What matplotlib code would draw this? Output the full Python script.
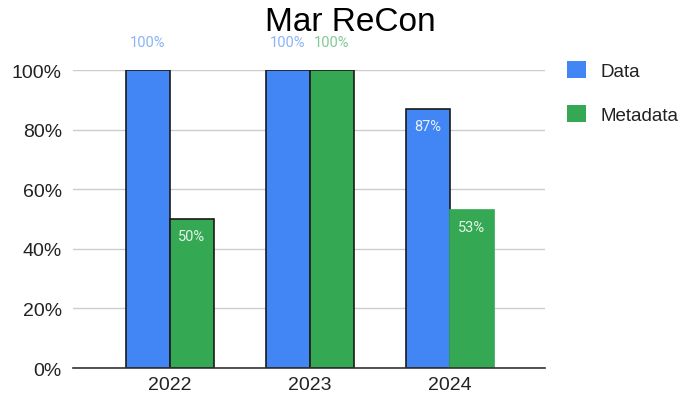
import matplotlib
matplotlib.use("Agg")
import matplotlib.pyplot as plt
import numpy as np
from matplotlib.ticker import PercentFormatter

plt.rcParams['font.family'] = ['Liberation Sans', 'DejaVu Sans']

years = ["2022", "2023", "2024"]
data_vals = [100, 100, 87]
meta_vals = [50, 100, 53]
series_names = ["Data", "Metadata"]
yticks = [0, 20, 40, 60, 80, 100]

blue = "#4285F4"
green = "#34A853"

fig = plt.figure(figsize=(6.88, 4.02), dpi=100)
ax = fig.add_axes([0.106, 0.082, 0.686, 0.741])

x = np.arange(len(years))
w = 0.314
b1 = ax.bar(x - w / 2, data_vals, w, color=blue, edgecolor="#1a1a1a", linewidth=1.2, label=series_names[0], zorder=3)
b2 = ax.bar(x + w / 2, meta_vals, w, color=green, edgecolor="#1a1a1a", linewidth=1.2, label=series_names[1], zorder=3)
b2[2].set_edgecolor(green)

def label(bars, vals, out_col, in_col):
    for bar, v in zip(bars, vals):
        cx = bar.get_x() + bar.get_width() / 2
        if v >= 100:
            ax.text(cx, v + 9.4, f"{v}%", ha="center", va="center", color=out_col,
                    fontsize=10.5, family=["Roboto", "DejaVu Sans"], clip_on=False)
        else:
            ax.text(cx, v - 5.7, f"{v}%", ha="center", va="center", color=in_col,
                    fontsize=10.5, family=["Roboto", "DejaVu Sans"])

label(b1, data_vals, "#8AB4F8", "#E8F0FE")
label(b2, meta_vals, "#81C995", "#E6F4EA")

ax.set_xlim(-0.69, 2.68)
ax.set_ylim(0, 100)
ax.set_yticks(yticks)
ax.yaxis.set_major_formatter(PercentFormatter(decimals=0))
ax.set_xticks(x)
ax.set_xticklabels(years)
ax.tick_params(axis="both", length=0, labelsize=14, colors="#222222")
ax.tick_params(axis="y", pad=8)
ax.tick_params(axis="x", pad=6)
ax.grid(axis="y", color="#cccccc", linewidth=1, zorder=0)
for s in ["top", "right", "left"]:
    ax.spines[s].set_visible(False)
ax.spines["bottom"].set_color("#333333")
ax.spines["bottom"].set_linewidth(1.2)
ax.spines["bottom"].set_zorder(4)

fig.text(0.509, 0.943, "Mar ReCon", ha="center", va="center", fontsize=24, color="#000000")

leg = fig.legend(handles=[b1, b2], labels=series_names, loc="upper left",
                 bbox_to_anchor=(550 / 688, 1 - 45 / 402), frameon=False, fontsize=13.5,
                 handlelength=1.0, handleheight=1.0, labelspacing=1.35, handletextpad=0.8,
                 borderpad=0.4)
for h, c in zip(leg.legend_handles, [blue, green]):
    h.set_edgecolor(c)
    h.set_linewidth(0)
for t in leg.get_texts():
    t.set_color("#222222")

fig.savefig("out.png", dpi=100)
